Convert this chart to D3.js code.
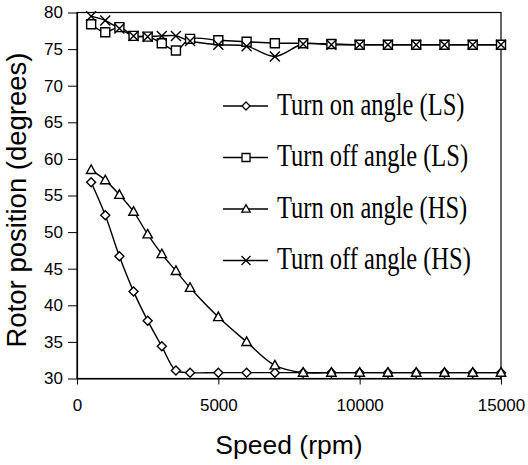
<!DOCTYPE html>
<html>
<head>
<meta charset="utf-8">
<script src="https://cdn.jsdelivr.net/npm/d3@7"></script>
<style>
  body { margin: 0; background: #fff; }
  svg { display: block; }
</style>
</head>
<body>
<div id="chart_div"></div>
<script>
// speeds (rpm) for every series
const speeds = [500, 1000, 1500, 2000, 2500, 3000, 3500, 4000, 5000, 6000, 7000,
  8000, 9000, 10000, 11000, 12000, 13000, 14000, 15000];

// rotor position values (degrees)
const turnOnLS  = [56.8, 52.3, 46.7, 41.9, 37.9, 34.4, 31.1, 30.8, 30.8, 30.8, 30.8,
  30.8, 30.8, 30.8, 30.8, 30.8, 30.8, 30.8, 30.8];
const turnOffLS = [78.4, 77.3, 78.0, 76.8, 76.7, 75.8, 74.8, 76.4, 76.2, 76.0, 75.8,
  75.8, 75.7, 75.6, 75.6, 75.6, 75.6, 75.6, 75.6];
const turnOnHS  = [58.5, 57.1, 55.1, 52.8, 49.7, 47.0, 44.7, 42.4, 38.4, 35.0, 31.8,
  30.8, 30.8, 30.8, 30.8, 30.8, 30.8, 30.8, 30.8];
const turnOffHS = [79.5, 78.9, 77.8, 76.8, 76.7, 76.8, 76.8, 76.1, 75.6, 75.4, 74.0,
  75.7, 75.6, 75.6, 75.6, 75.6, 75.6, 75.6, 75.6];

const seriesNames = ["Turn on angle (LS)", "Turn off angle (LS)", "Turn on angle (HS)", "Turn off angle (HS)"];
const seriesMarkers = ["diamond", "square", "triangle", "cross"];

const xTicks = [0, 5000, 10000, 15000];
const yTicks = [30, 35, 40, 45, 50, 55, 60, 65, 70, 75, 80];

const series = [turnOnLS, turnOffLS, turnOnHS, turnOffHS].map((vals, i) => ({
  name: seriesNames[i],
  marker: seriesMarkers[i],
  points: speeds.map((s, j) => ({ x: s, y: vals[j] }))
}));

// set the dimensions and margins
const margin = {top: 12.5, right: 27, bottom: 86.5, left: 77},
  width = 528 - margin.left - margin.right,
  height = 465 - margin.top - margin.bottom;

const svg = d3.select("#chart_div")
  .append("svg")
  .attr("width", 528)
  .attr("height", 465)
  .append("g")
  .attr("transform", `translate(${margin.left},${margin.top})`);

const x = d3.scaleLinear().domain([0, 15000]).range([0, width]);
const y = d3.scaleLinear().domain([30, 80]).range([height, 0]);

// frame (top + right)
svg.append("rect")
  .attr("x", 0).attr("y", 0)
  .attr("width", width).attr("height", height)
  .attr("fill", "none")
  .attr("stroke", "#000")
  .attr("stroke-width", 1.2);

// X axis
const xAxis = svg.append("g")
  .attr("transform", `translate(0, ${height})`)
  .call(d3.axisBottom(x).tickValues(xTicks).tickFormat(d3.format("d"))
    .tickSize(6).tickPadding(14).tickSizeOuter(0));

// Y axis
const yAxis = svg.append("g")
  .call(d3.axisLeft(y).tickValues(yTicks).tickSize(9).tickPadding(5).tickSizeOuter(0));

[xAxis, yAxis].forEach(a => {
  a.select(".domain").attr("stroke", "#000").attr("stroke-width", 1.2);
  a.selectAll(".tick line").attr("stroke", "#000").attr("stroke-width", 1);
  a.selectAll(".tick text")
    .attr("fill", "#000")
    .style("font-family", "'Liberation Sans', Arial, sans-serif")
    .style("font-size", "17px");
});

// axis titles
svg.append("text")
  .attr("text-anchor", "middle")
  .attr("x", width / 2)
  .attr("y", height + 75)
  .style("font-family", "'Liberation Sans', Arial, sans-serif")
  .style("font-size", "26.5px")
  .text("Speed (rpm)");

svg.append("text")
  .attr("text-anchor", "middle")
  .attr("transform", "rotate(-90)")
  .attr("x", -187.5)
  .attr("y", -51)
  .style("font-family", "'Liberation Sans', Arial, sans-serif")
  .style("font-size", "27.5px")
  .text("Rotor position (degrees)");

// marker shapes
const markerPath = (type, s) => {
  const h = s / 2;
  if (type === "diamond") return `M0,${-h}L${h},0L0,${h}L${-h},0Z`;
  if (type === "square") return `M${-h},${-h}H${h}V${h}H${-h}Z`;
  if (type === "triangle") return `M0,${-h * 1.1}L${h * 1.05},${h * 0.8}L${-h * 1.05},${h * 0.8}Z`;
  return `M${-h},${-h}L${h},${h}M${h},${-h}L${-h},${h}`;
};

const line = d3.line()
  .x(d => x(d.x))
  .y(d => y(d.y))
  .curve(d3.curveCatmullRom.alpha(0.5));

// lines first, then markers on top
svg.append("g")
  .selectAll("path")
  .data(series)
  .join("path")
  .attr("fill", "none")
  .attr("stroke", "#000")
  .attr("stroke-width", 1.4)
  .attr("d", d => line(d.points));

series.forEach(s => {
  svg.append("g")
    .selectAll("path")
    .data(s.points)
    .join("path")
    .attr("transform", d => `translate(${x(d.x)},${y(d.y)})`)
    .attr("d", markerPath(s.marker, s.marker === "cross" ? 10 : 9))
    .attr("fill", s.marker === "cross" ? "none" : "#fff")
    .attr("stroke", "#000")
    .attr("stroke-width", 1.4);
});

// legend
const legend = svg.append("g")
  .attr("transform", `translate(${223 - margin.left}, ${106 - margin.top})`);

const legendItem = legend.selectAll("g")
  .data(series)
  .join("g")
  .attr("transform", (d, i) => `translate(0, ${i * 51.5})`);

legendItem.append("line")
  .attr("x1", 0).attr("x2", 45)
  .attr("stroke", "#000")
  .attr("stroke-width", 1.4);

legendItem.append("path")
  .attr("transform", "translate(23,0)")
  .attr("d", d => markerPath(d.marker, d.marker === "cross" ? 9 : 8))
  .attr("fill", d => d.marker === "cross" ? "none" : "#fff")
  .attr("stroke", "#000")
  .attr("stroke-width", 1.3);

// legend text in the reference is narrow and tall, so squeeze it horizontally
legendItem.append("text")
  .attr("transform", "translate(54,0) scale(0.79,1)")
  .attr("dy", "0.28em")
  .style("font-family", "'Liberation Serif', 'Times New Roman', serif")
  .style("font-size", "31px")
  .text(d => d.name);
</script>
</body>
</html>
